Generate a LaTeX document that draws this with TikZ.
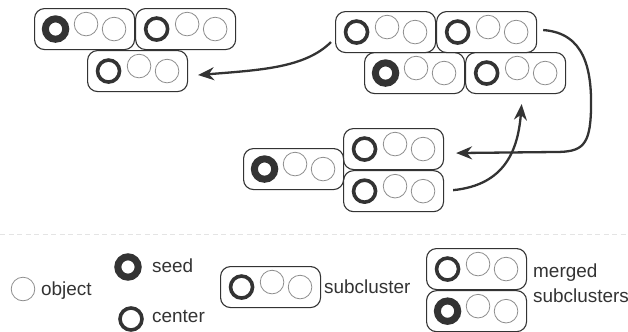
\documentclass[tikz,border=0pt]{standalone}
\usepackage{fontspec}
\setmainfont{Liberation Sans}
\usetikzlibrary{positioning,arrows.meta}
\definecolor{inkgray}{RGB}{51,51,51}
\definecolor{ringgray}{RGB}{140,140,140}
\definecolor{sepgray}{RGB}{228,228,228}

% three members of a subcluster: the first one is a seed or a center
\newcommand{\members}[2]{%
  \draw[#2] ([shift={(-29,0)}]#1.center) circle;
  \draw[objring] ([shift={(1.5,-5)}]#1.center) circle;
  \draw[objring] ([shift={(29.5,0)}]#1.center) circle;
}

\begin{document}
\begin{tikzpicture}[x=1bp,y=-1bp,font=\fontsize{19}{22}\selectfont,text=inkgray]
    \tikzstyle{subcl} = [draw=inkgray, line width=1.1bp, rounded corners=10bp, minimum width=100bp, minimum height=41bp, inner sep=0pt, anchor=north west]
    \tikzstyle{objring} = [draw=ringgray, line width=0.8bp, radius=11.8bp]
    \tikzstyle{ctrring} = [draw=inkgray, line width=3.6bp, radius=11bp]
    \tikzstyle{seedring} = [draw=inkgray, line width=7bp, radius=10.2bp]
    \tikzstyle{flow} = [draw=inkgray, line width=2.3bp, -{Stealth[length=16bp,width=13bp]}]
    \tikzstyle{lbl} = [anchor=base west, inner sep=0pt]

    \useasboundingbox (0,0) rectangle (628,331);

    % merged result, top left
    \node [subcl] (L1) at (34,8) {};
    \node [subcl, right=0pt of L1] (L2) {};
    \node [subcl] (L3) at (87,50) {};
    \members{L1}{seedring}
    \members{L2}{ctrring}
    \members{L3}{ctrring}

    % top right
    \node [subcl] (A) at (335,11) {};
    \node [subcl, right=0pt of A] (B) {};
    \node [subcl] (C) at (364,52) {};
    \node [subcl, right=0pt of C] (D) {};
    \members{A}{ctrring}
    \members{B}{ctrring}
    \members{C}{seedring}
    \members{D}{ctrring}

    % middle
    \node [subcl] (E) at (343,128) {};
    \node [subcl, below=0pt of E] (F) {};
    \node [subcl] (G) at (243,148) {};
    \members{E}{ctrring}
    \members{F}{ctrring}
    \members{G}{seedring}

    % Arrows
    \draw [flow] ([shift={(-4,10)}]A.west) .. controls (305,68) and (260,70) .. ([shift={(10,4)}]L3.east);
    \draw [flow] ([shift={(6,-2)}]B.east) .. controls (585,33) and (592,70) .. (591,110)
        .. controls (590,146) and (582,152) .. (555,152) -- ([shift={(12,4)}]E.east);
    \draw [flow] ([shift={(9,-1)}]F.east) .. controls (505,185) and (518,150) .. ([shift={(6,10)}]D.south);

    % separator
    \draw [sepgray, line width=1bp, dash pattern=on 5bp off 3.5bp] (0,234) -- (628,234);

    % Legend
    \draw [objring] (23,289) circle;
    \node [lbl] (objtxt) at (41,295) {object};
    \draw [seedring] (128,267) circle;
    \node [lbl] (seedtxt) at (152,272) {seed};
    \draw [ctrring] (131,319) circle;
    \node [lbl] (ctrtxt) at (152,322) {center};
    \node [subcl] (S) at (220,266) {};
    \members{S}{ctrring}
    \node [lbl] (subtxt) at (324,293) {subcluster};
    \node [subcl] (M1) at (426,248) {};
    \node [subcl, below=0pt of M1] (M2) {};
    \members{M1}{ctrring}
    \members{M2}{seedring}
    \node [lbl] (mergtxt) at (533,277) {merged};
    \node [lbl] (mergtxt2) at (533,302) {subclusters};
\end{tikzpicture}
\end{document}
